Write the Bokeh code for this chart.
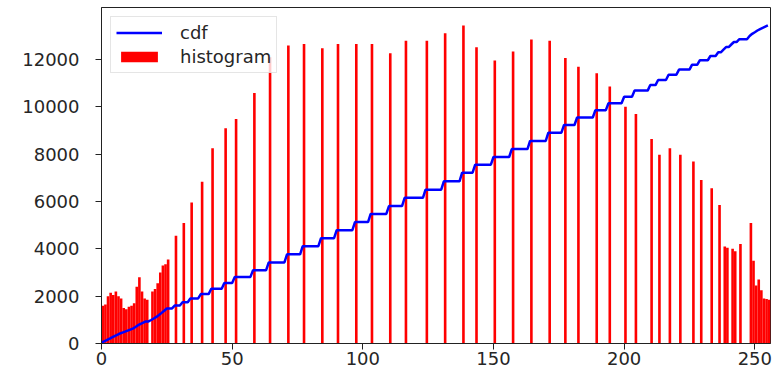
import numpy as np
from bokeh.plotting import figure
from bokeh.models import Range1d, FixedTicker, Legend, LegendItem
from bokeh.embed import file_html
from bokeh.resources import INLINE

# ---- data -----------------------------------------------------------------
# dense low end of the histogram (bins 0..27)
low_bins = list(range(0, 28))
low_counts = [1600, 1650, 2000, 2150, 2050, 2200, 2000, 1900, 1500, 1450,
              1550, 1600, 1700, 2400, 2800, 2200, 1900, 1850, 0, 2200,
              2300, 2550, 3000, 3300, 3350, 3550, 0, 0]

# isolated spikes in the middle range
spike_bins = [28, 31, 34, 38, 42, 47, 51, 58,
              64, 71, 77, 84, 90, 97, 103, 110, 116, 124,
              131, 138, 143, 150, 157, 164, 171, 177, 182, 189,
              194, 200, 204, 210, 213, 217, 221, 226, 229, 233, 236]
spike_counts = [4550, 5090, 5960, 6840, 8250, 9100, 9490, 10590,
                12100, 12590, 12660, 12480, 12660, 12660, 12660, 12270, 12800, 12800,
                13110, 13440, 12520, 11960, 12340, 12850, 12800, 12070, 11700, 11420,
                10860, 10010, 9700, 8640, 7980, 8250, 7980, 7690, 6910, 6560, 5850]

# high end (bins 238..255)
tail_bins = list(range(238, 256))
tail_counts = [4100, 4050, 0, 4000, 3900, 0, 4200, 0, 0, 0,
               5090, 3500, 2450, 2700, 2250, 1900, 1880, 1850]

x_ticks = [0, 50, 100, 150, 200, 250]
y_ticks = [0, 2000, 4000, 6000, 8000, 10000, 12000]

# ---- build histogram / cdf -------------------------------------------------
hist = np.zeros(256)
for b, c in zip(low_bins, low_counts):
    hist[b] = c
for b, c in zip(spike_bins, spike_counts):
    hist[b] = c
for b, c in zip(tail_bins, tail_counts):
    hist[b] = c

cdf = hist.cumsum()
cdf_normalized = cdf * hist.max() / cdf.max()

FONT = "DejaVu Sans"

p = figure(frame_width=669, frame_height=336,
           x_range=Range1d(0, 256), y_range=Range1d(0, 14200),
           output_backend="svg", toolbar_location=None,
           min_border_left=101, min_border_right=8, min_border_top=7,
           min_border_bottom=0)

p.grid.visible = False
p.outline_line_color = "#222222"
p.outline_line_width = 1
p.background_fill_color = "white"

bars = p.vbar(x=np.arange(256) + 0.5, width=1, top=hist, bottom=0,
              fill_color="#ff0000", line_color=None)
line = p.line(x=np.arange(256), y=cdf_normalized, line_color="#0000ff",
              line_width=2.5)

for ax in (p.xaxis[0], p.yaxis[0]):
    ax.axis_line_color = "#222222"
    ax.major_tick_line_color = "#222222"
    ax.major_tick_out = 6
    ax.major_tick_in = 0
    ax.minor_tick_line_color = None
    ax.major_label_text_font = FONT
    ax.major_label_text_font_size = "18px"
    ax.major_label_text_color = "#262626"

p.xaxis[0].ticker = FixedTicker(ticks=x_ticks)
p.yaxis[0].ticker = FixedTicker(ticks=y_ticks)
p.xaxis[0].major_label_standoff = 2
p.yaxis[0].major_label_standoff = 16

legend = Legend(items=[LegendItem(label="cdf", renderers=[line]),
                       LegendItem(label="histogram", renderers=[bars])],
                location="top_left")
legend.label_text_font = FONT
legend.label_text_font_size = "18px"
legend.label_text_color = "#262626"
legend.glyph_width = 46
legend.glyph_height = 13
legend.label_height = 20
legend.spacing = 3
legend.padding = 5
legend.margin = 9
legend.label_standoff = 18
legend.border_line_color = "#cccccc"
legend.border_line_width = 1
legend.background_fill_alpha = 0.8
p.add_layout(legend)

open("out.html", "w").write(file_html(p, INLINE))
